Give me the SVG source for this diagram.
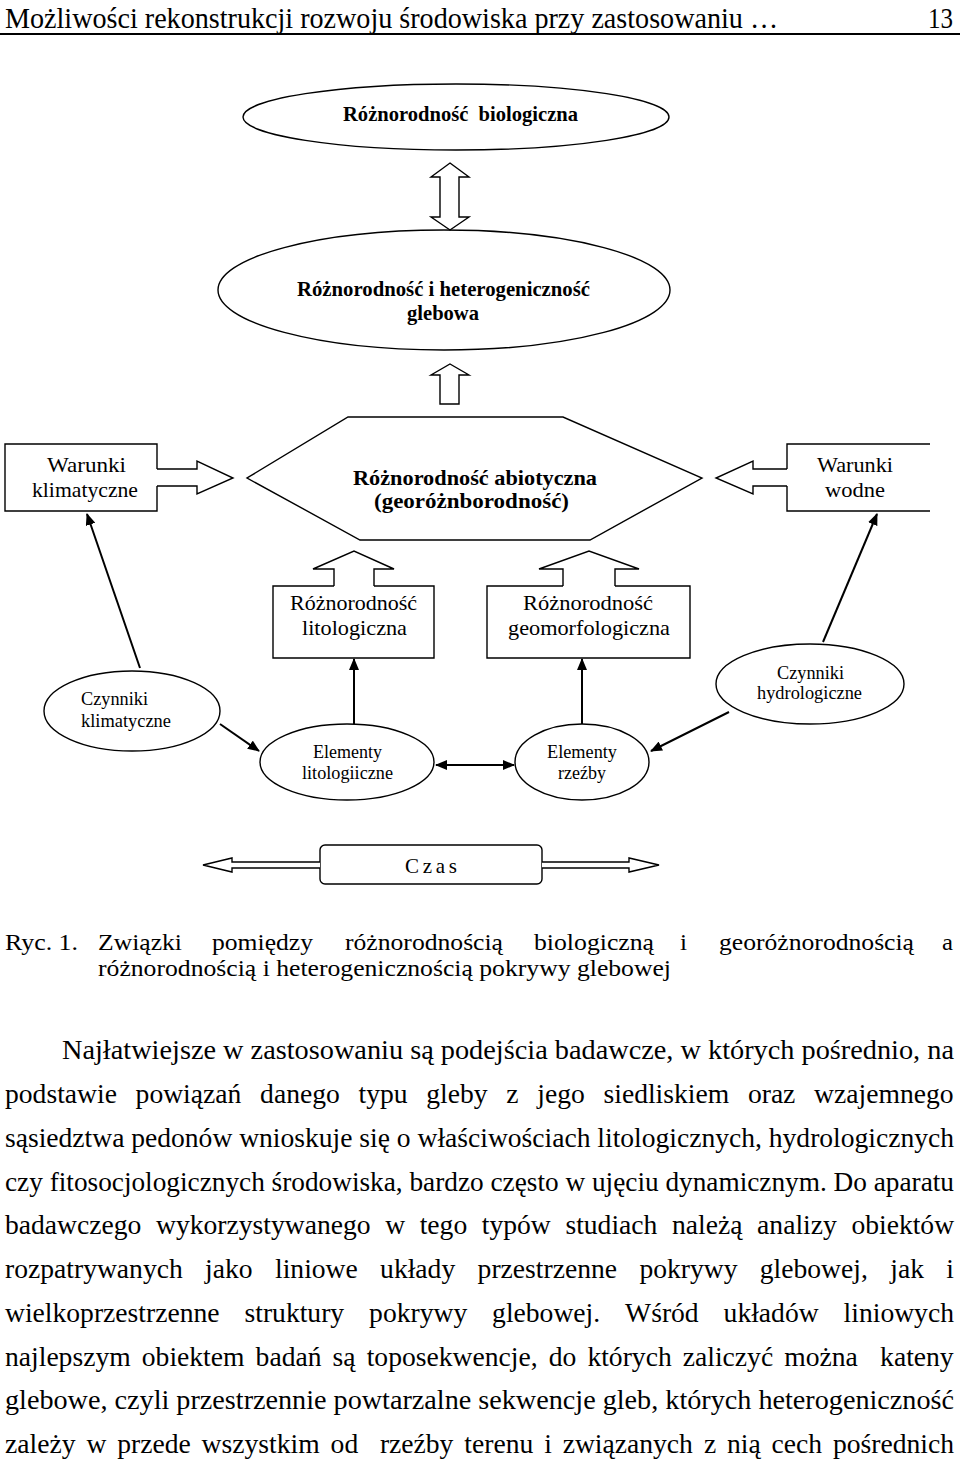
<svg xmlns="http://www.w3.org/2000/svg" width="960" height="1460" viewBox="0 0 960 1460">
<style>
text{font-family:"Liberation Serif","Times New Roman",serif;fill:#000}
.b{font-weight:bold;font-size:22px}
.n{font-size:21px}
.s{font-size:18.5px}
.p{font-size:27.6px}
.c{font-size:23px}
.h{font-size:30px}
.sh{fill:#fff;stroke:#000;stroke-width:1.4}
.ln{fill:none;stroke:#000;stroke-width:2}
.e{text-anchor:end}
</style>
<defs>
<marker id="ah" viewBox="0 0 12 10" refX="11" refY="5" markerWidth="12" markerHeight="10" markerUnits="userSpaceOnUse" orient="auto-start-reverse">
<path d="M0,0 L12,5 L0,10 z" fill="#000"/>
</marker>
</defs>

<g id="header">
<text class="h" x="5" y="28" textLength="773" lengthAdjust="spacingAndGlyphs">Możliwości rekonstrukcji rozwoju środowiska przy zastosowaniu …</text>
<text class="h" x="928" y="28" textLength="25" lengthAdjust="spacingAndGlyphs">13</text>
<line x1="0" y1="34" x2="960" y2="34" stroke="#000" stroke-width="2"/>
</g>

<g id="bio">
<ellipse class="sh" cx="456" cy="117" rx="213" ry="33"/>
<text class="b" x="343" y="121" textLength="235" lengthAdjust="spacingAndGlyphs" xml:space="preserve">Różnorodność  biologiczna</text>
</g>

<g id="soil">
<ellipse class="sh" cx="444" cy="290" rx="226" ry="60"/>
<text class="b" x="297" y="296" textLength="293" lengthAdjust="spacingAndGlyphs">Różnorodność i heterogeniczność</text>
<text class="b" x="407" y="320" textLength="72" lengthAdjust="spacingAndGlyphs">glebowa</text>
</g>

<g id="abiotic">
<polygon class="sh" points="348,417 563,417 702,478 590,540 360,540 247,478"/>
<text class="b" x="353" y="485" textLength="244" lengthAdjust="spacingAndGlyphs">Różnorodność abiotyczna</text>
<text class="b" x="374" y="508" textLength="195" lengthAdjust="spacingAndGlyphs">(georóżnborodność)</text>
</g>

<g id="warunki-klim">
<path class="sh" d="M157,469 V444 H5 V511 H157 V486"/>
<text class="n" x="47" y="472" textLength="79" lengthAdjust="spacingAndGlyphs">Warunki</text>
<text class="n" x="32" y="497" textLength="106" lengthAdjust="spacingAndGlyphs">klimatyczne</text>
</g>

<g id="warunki-wod">
<path class="sh" d="M787,469 V444 H930 M930,511 H787 V486" style="fill:none"/>
<text class="n" x="817" y="472" textLength="76" lengthAdjust="spacingAndGlyphs">Warunki</text>
<text class="n" x="825" y="497" textLength="60" lengthAdjust="spacingAndGlyphs">wodne</text>
</g>

<g id="lito">
<path class="sh" d="M334,586 H273 V658 H434 V586 H374"/>
<text class="n" x="290" y="610" textLength="127" lengthAdjust="spacingAndGlyphs">Różnorodność</text>
<text class="n" x="302" y="635" textLength="105" lengthAdjust="spacingAndGlyphs">litologiczna</text>
</g>

<g id="geomorf">
<path class="sh" d="M563,586 H487 V658 H690 V586 H615"/>
<text class="n" x="523" y="610" textLength="130" lengthAdjust="spacingAndGlyphs">Różnorodność</text>
<text class="n" x="508" y="635" textLength="162" lengthAdjust="spacingAndGlyphs">geomorfologiczna</text>
</g>

<g id="czyn-klim">
<ellipse class="sh" cx="132" cy="711" rx="88" ry="40"/>
<text class="s" x="81" y="705" textLength="67" lengthAdjust="spacingAndGlyphs">Czynniki</text>
<text class="s" x="81" y="727" textLength="90" lengthAdjust="spacingAndGlyphs">klimatyczne</text>
</g>

<g id="czyn-hydro">
<ellipse class="sh" cx="810" cy="684" rx="94" ry="40"/>
<text class="s" x="777" y="679" textLength="67" lengthAdjust="spacingAndGlyphs">Czynniki</text>
<text class="s" x="757" y="699" textLength="105" lengthAdjust="spacingAndGlyphs">hydrologiczne</text>
</g>

<g id="elem-lito">
<ellipse class="sh" cx="347" cy="762" rx="87" ry="38"/>
<text class="s" x="313" y="758" textLength="69" lengthAdjust="spacingAndGlyphs">Elementy</text>
<text class="s" x="302" y="779" textLength="91" lengthAdjust="spacingAndGlyphs">litologiiczne</text>
</g>

<g id="elem-rzezby">
<ellipse class="sh" cx="582" cy="762" rx="67" ry="38"/>
<text class="s" x="547" y="758" textLength="70" lengthAdjust="spacingAndGlyphs">Elementy</text>
<text class="s" x="558" y="779" textLength="48" lengthAdjust="spacingAndGlyphs">rzeźby</text>
</g>

<g id="czas">
<rect class="sh" x="320" y="845" width="222" height="39" rx="5"/>
<text class="n" x="405" y="873" textLength="52" lengthAdjust="spacing">Czas</text>
</g>

<g id="connectors">
<polygon class="sh" points="450,163 469,177 459,177 459,217 469,217 450,230 431,217 440,217 440,177 431,177"/>
<polygon class="sh" points="450,364 469,375 459,375 459,404 440,404 440,375 431,375"/>
<path class="sh" d="M157,469 H197 V461 L233,478 L197,494 V486 H157"/>
<path class="sh" d="M787,469 H753 V461 L716,478 L753,494 V486 H787"/>
<path class="sh" d="M334,586 V569 H313 L354,551 L394,569 H374 V586"/>
<path class="sh" d="M563,586 V569 H539 L589,551 L639,569 H615 V586"/>
<path class="sh" d="M320,862 H232 V858 L203,865 L232,872 V868 H320"/>
<path class="sh" d="M542,862 H629 V858 L659,865 L629,872 V868 H542"/>
<line class="ln" x1="140" y1="668" x2="87" y2="514" marker-end="url(#ah)"/>
<line class="ln" x1="823" y1="642" x2="877" y2="514" marker-end="url(#ah)"/>
<line class="ln" x1="220" y1="724" x2="259" y2="751" marker-end="url(#ah)"/>
<line class="ln" x1="729" y1="712" x2="651" y2="751" marker-end="url(#ah)"/>
<line class="ln" x1="354" y1="724" x2="354" y2="659" marker-end="url(#ah)"/>
<line class="ln" x1="582" y1="724" x2="582" y2="659" marker-end="url(#ah)"/>
<line class="ln" x1="436" y1="765" x2="514" y2="765" marker-start="url(#ah)" marker-end="url(#ah)"/>
</g>

<g id="caption">
<text class="c" x="5" y="950" textLength="73" lengthAdjust="spacingAndGlyphs">Ryc. 1.</text>
<text class="c" x="98" y="950" textLength="84" lengthAdjust="spacingAndGlyphs">Związki</text>
<text class="c" x="212" y="950" textLength="101" lengthAdjust="spacingAndGlyphs">pomiędzy</text>
<text class="c" x="345" y="950" textLength="158" lengthAdjust="spacingAndGlyphs">różnorodnością</text>
<text class="c" x="534" y="950" textLength="120" lengthAdjust="spacingAndGlyphs">biologiczną</text>
<text class="c" x="680" y="950" textLength="7" lengthAdjust="spacingAndGlyphs">i</text>
<text class="c" x="719" y="950" textLength="195" lengthAdjust="spacingAndGlyphs">georóżnorodnością</text>
<text class="c" x="942" y="950" textLength="11" lengthAdjust="spacingAndGlyphs">a</text>
<text class="c" x="98" y="976" textLength="573" lengthAdjust="spacingAndGlyphs">różnorodnością i heterogenicznością pokrywy glebowej</text>
</g>

<g id="paragraph">
<text class="p" x="62" y="1059" textLength="892" lengthAdjust="spacingAndGlyphs">Najłatwiejsze w zastosowaniu są podejścia badawcze, w których pośrednio, na</text>
<text class="p" y="1103"><tspan x="5">podstawie</tspan><tspan x="135.6">powiązań</tspan><tspan x="260.1">danego</tspan><tspan x="358.5">typu</tspan><tspan x="426.3">gleby</tspan><tspan x="506.3">z</tspan><tspan x="537.3">jego</tspan><tspan x="603.5">siedliskiem</tspan><tspan x="747.9">oraz</tspan><tspan x="814.1">wzajemnego</tspan></text>
<text class="p" x="5" y="1147" textLength="949" lengthAdjust="spacingAndGlyphs">sąsiedztwa pedonów wnioskuje się o właściwościach litologicznych, hydrologicznych</text>
<text class="p" x="5" y="1191" textLength="949" lengthAdjust="spacingAndGlyphs" style="font-size:27.2px">czy fitosocjologicznych środowiska, bardzo często w ujęciu dynamicznym. Do aparatu</text>
<text class="p" y="1234"><tspan x="5">badawczego</tspan><tspan x="156">wykorzystywanego</tspan><tspan x="385.2">w</tspan><tspan x="419.7">tego</tspan><tspan x="481.8">typów</tspan><tspan x="565.4">studiach</tspan><tspan x="672">należą</tspan><tspan x="757.1">analizy</tspan><tspan x="851.4">obiektów</tspan></text>
<text class="p" y="1278"><tspan x="5">rozpatrywanych</tspan><tspan x="205.1">jako</tspan><tspan x="275">liniowe</tspan><tspan x="380.1">układy</tspan><tspan x="477.6">przestrzenne</tspan><tspan x="639.4">pokrywy</tspan><tspan x="759.8">glebowej,</tspan><tspan x="890.3">jak</tspan><tspan x="946.3">i</tspan></text>
<text class="p" y="1322"><tspan x="5">wielkoprzestrzenne</tspan><tspan x="244.5">struktury</tspan><tspan x="369.1">pokrywy</tspan><tspan x="492.1">glebowej.</tspan><tspan x="625.1">Wśród</tspan><tspan x="723.6">układów</tspan><tspan x="843.6">liniowych</tspan></text>
<text class="p" y="1366"><tspan x="5">najlepszym</tspan><tspan x="141.8">obiektem</tspan><tspan x="255.6">badań</tspan><tspan x="332.6">są</tspan><tspan x="366.7">toposekwencje,</tspan><tspan x="548.7">do</tspan><tspan x="587.4">których</tspan><tspan x="682.8">zaliczyć</tspan><tspan x="784.3">można</tspan><tspan x="880.1">kateny</tspan></text>
<text class="p" x="5" y="1409" textLength="949" lengthAdjust="spacingAndGlyphs">glebowe, czyli przestrzennie powtarzalne sekwencje gleb, których heterogeniczność</text>
<text class="p" y="1453"><tspan x="5">zależy</tspan><tspan x="86.4">w</tspan><tspan x="117.2">przede</tspan><tspan x="201.6">wszystkim</tspan><tspan x="330.6">od</tspan><tspan x="379.9">rzeźby</tspan><tspan x="464.3">terenu</tspan><tspan x="544.2">i</tspan><tspan x="562.7">związanych</tspan><tspan x="703.9">z</tspan><tspan x="727">nią</tspan><tspan x="771.6">cech</tspan><tspan x="833">pośrednich</tspan></text>
</g>
</svg>
